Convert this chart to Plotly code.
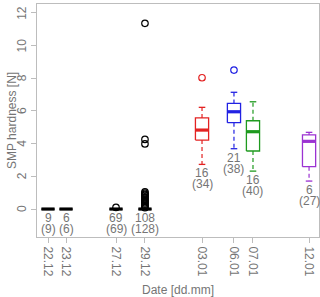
import plotly.graph_objects as go

# ---- data ----
date_labels = ["22.12", "23.12", "27.12", "29.12", "03.01", "06.01", "07.01", "12.01"]
date_pos = [0.0, 1.45, 5.47, 7.8, 12.39, 14.96, 16.49, 21.0]   # days after 22.12 (measurement time)
y_ticks = [0, 2, 4, 6, 8, 10, 12]
lower_whisker = [0, 0, 0, 0, 2.73, 3.69, 2.32, 1.71]
q1 = [0, 0, 0, 0, 4.22, 5.28, 3.55, 2.59]
median = [0, 0, 0, 0, 4.83, 5.95, 4.73, 4.14]
q3 = [0, 0, 0, 0, 5.57, 6.46, 5.40, 4.53]
upper_whisker = [0, 0, 0, 0, 6.22, 7.14, 6.56, 4.69]
outliers = [
    [],
    [],
    [0.1],
    [0.08, 0.15, 0.22, 0.3, 0.38, 0.45, 0.52, 0.6, 0.68, 0.75, 0.83, 0.9, 0.97, 1.05,
     3.98, 4.26, 11.36],
    [8.03],
    [8.5],
    [],
    [],
]
n_valid = [9, 6, 69, 108, 16, 21, 16, 6]
n_total = [9, 6, 69, 128, 34, 38, 40, 27]
box_colors = ["black", "black", "black", "black", "#e32222", "#2222e3", "#1f9a1f", "#9b32d2"]

# ---- styling ----
BOX_W = 1.06
GRAY_TXT = "#757575"
FRAME = "#bdbdbd"
FONT = "Liberation Sans, Arial, sans-serif"

fig = go.Figure()

for i, x in enumerate(date_pos):
    c = box_colors[i]
    hw = BOX_W / 2
    cw = BOX_W / 4
    # whiskers (dashed)
    fig.add_trace(go.Scatter(
        x=[x, x, None, x, x],
        y=[q3[i], upper_whisker[i], None, q1[i], lower_whisker[i]],
        mode="lines", line=dict(color=c, width=1.2, dash="4px,3px"),
        hoverinfo="skip", showlegend=False))
    # caps
    fig.add_trace(go.Scatter(
        x=[x - cw, x + cw, None, x - cw, x + cw],
        y=[upper_whisker[i], upper_whisker[i], None, lower_whisker[i], lower_whisker[i]],
        mode="lines", line=dict(color=c, width=1.3),
        hoverinfo="skip", showlegend=False))
    # box
    fig.add_trace(go.Scatter(
        x=[x - hw, x + hw, x + hw, x - hw, x - hw],
        y=[q1[i], q1[i], q3[i], q3[i], q1[i]],
        mode="lines", fill="toself", fillcolor="white",
        line=dict(color=c, width=1.3),
        hoverinfo="skip", showlegend=False))
    # median
    fig.add_trace(go.Scatter(
        x=[x - hw, x + hw], y=[median[i], median[i]],
        mode="lines", line=dict(color=c, width=3.2),
        hoverinfo="skip", showlegend=False))
    # outliers
    if outliers[i]:
        fig.add_trace(go.Scatter(
            x=[x] * len(outliers[i]), y=outliers[i], mode="markers",
            marker=dict(symbol="circle-open", size=6.5, color=c, line=dict(width=1.2, color=c)),
            hoverinfo="skip", showlegend=False))
    # count labels
    fig.add_annotation(x=x, y=lower_whisker[i], text=str(n_valid[i]), showarrow=False,
                       yanchor="middle", xanchor="center", yshift=-9,
                       font=dict(size=12, color=GRAY_TXT, family=FONT))
    fig.add_annotation(x=x, y=lower_whisker[i], text="(" + str(n_total[i]) + ")", showarrow=False,
                       yanchor="middle", xanchor="center", yshift=-20,
                       font=dict(size=12, color=GRAY_TXT, family=FONT))

# y tick labels (rotated, R style)
for v in y_ticks:
    fig.add_annotation(xref="paper", yref="y", x=0, y=v, xshift=-15, text=str(v),
                       textangle=-90, showarrow=False, xanchor="center", yanchor="middle",
                       font=dict(size=12, color=GRAY_TXT, family=FONT))

# axis titles
fig.add_annotation(xref="paper", yref="paper", x=0, y=0.5, xshift=-25.5, text="SMP hardness [N]",
                   textangle=-90, showarrow=False, xanchor="center", yanchor="middle",
                   font=dict(size=12, color=GRAY_TXT, family=FONT))
fig.add_annotation(xref="paper", yref="paper", x=0.5, y=0, yshift=-53, text="Date [dd.mm]",
                   showarrow=False, xanchor="center", yanchor="middle",
                   font=dict(size=12, color=GRAY_TXT, family=FONT))

fig.update_layout(
    width=320, height=297,
    margin=dict(l=37, r=1, t=4, b=60, autoexpand=False),
    paper_bgcolor="white", plot_bgcolor="white",
    font=dict(family=FONT, size=12, color=GRAY_TXT),
    showlegend=False,
)
fig.update_xaxes(
    range=[-0.885, 21.8], tickmode="array", tickvals=date_pos, ticktext=date_labels,
    tickangle=90, ticks="outside", ticklen=5, tickcolor=FRAME, tickwidth=1,
    showline=True, linecolor=FRAME, linewidth=1, mirror=True,
    showgrid=False, zeroline=False, tickfont=dict(size=12, color=GRAY_TXT),
    ticklabelstandoff=1, automargin=False,
)
fig.update_yaxes(
    range=[-1.71, 12.54], tickmode="array", tickvals=y_ticks, showticklabels=False,
    ticks="outside", ticklen=5, tickcolor=FRAME, tickwidth=1,
    showline=True, linecolor=FRAME, linewidth=1, mirror=True,
    showgrid=False, zeroline=False, automargin=False,
)

fig.write_html("out.html", config={"displayModeBar": False},
               post_script="document.body.style.margin='0';")
